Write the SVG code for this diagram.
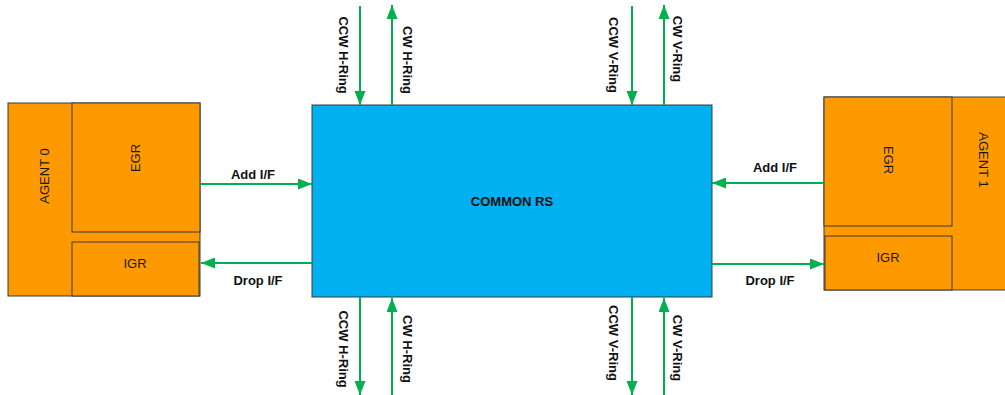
<svg xmlns="http://www.w3.org/2000/svg" width="1005" height="395" viewBox="0 0 1005 395">
  <style>
    .blk { fill: #FF9900; stroke: #3a3a3a; stroke-width: 1; }
    .rs { fill: #00B0F0; stroke: #3a3a3a; stroke-width: 1; }
    .name { font-family: "Liberation Sans", Arial, sans-serif; font-size: 13px; fill: #1a1a1a; text-anchor: middle; dominant-baseline: central; }
    .lbl { font-family: "Liberation Sans", Arial, sans-serif; font-size: 13px; font-weight: bold; fill: #111111; text-anchor: middle; dominant-baseline: central; }
    .wire { stroke: #00B050; stroke-width: 2; fill: none; marker-end: url(#head); }
  </style>
  <defs>
    <marker id="head" viewBox="0 0 14 11" refX="14" refY="5.5" markerWidth="14" markerHeight="11" markerUnits="userSpaceOnUse" orient="auto">
      <path d="M0,0 L14,5.5 L0,11 Z" fill="#00B050"/>
    </marker>
  </defs>

  <rect width="1005" height="395" fill="#ffffff"/>

  <!-- Agent 0 with its egress and ingress blocks -->
  <g id="agent0">
    <rect class="blk" x="8" y="103" width="192" height="193"/>
    <text class="name" transform="translate(44,176) rotate(-90)">AGENT 0</text>
  </g>
  <g id="agent0-egr">
    <rect class="blk" x="72" y="103" width="128" height="129"/>
    <text class="name" transform="translate(135,158) rotate(-90)">EGR</text>
  </g>
  <g id="agent0-igr">
    <rect class="blk" x="72" y="242" width="127" height="54"/>
    <text class="name" x="135" y="263">IGR</text>
  </g>

  <!-- Shared ring stop -->
  <g id="common-rs">
    <rect class="rs" x="312" y="105" width="400" height="192"/>
    <text class="lbl" x="512" y="201">COMMON RS</text>
  </g>

  <!-- Agent 1 with its egress and ingress blocks -->
  <g id="agent1">
    <rect class="blk" x="824" y="97" width="190" height="193"/>
    <text class="name" transform="translate(983,160) rotate(90)">AGENT 1</text>
  </g>
  <g id="agent1-egr">
    <rect class="blk" x="824" y="97" width="128" height="129"/>
    <text class="name" transform="translate(888,160) rotate(90)">EGR</text>
  </g>
  <g id="agent1-igr">
    <rect class="blk" x="825" y="236" width="127" height="54"/>
    <text class="name" x="888" y="257">IGR</text>
  </g>

  <!-- Interfaces and ring connections -->
  <g id="connectors">
    <line class="wire" x1="200" y1="184" x2="312" y2="184"/>
    <text class="lbl" x="253" y="174">Add I/F</text>
    <line class="wire" x1="312" y1="263" x2="201" y2="263"/>
    <text class="lbl" x="258" y="280">Drop I/F</text>

    <line class="wire" x1="824" y1="183" x2="712" y2="183"/>
    <text class="lbl" x="775" y="167">Add I/F</text>
    <line class="wire" x1="712" y1="264" x2="824" y2="264"/>
    <text class="lbl" x="770" y="280">Drop I/F</text>

    <!-- top: horizontal ring -->
    <line class="wire" x1="360" y1="6" x2="360" y2="105"/>
    <text class="lbl" transform="translate(343,55) rotate(90)">CCW H-Ring</text>
    <line class="wire" x1="392" y1="105" x2="392" y2="5"/>
    <text class="lbl" transform="translate(407,60) rotate(90)">CW H-Ring</text>

    <!-- top: vertical ring -->
    <line class="wire" x1="632" y1="6" x2="632" y2="105"/>
    <text class="lbl" transform="translate(613,55) rotate(90)">CCW V-Ring</text>
    <line class="wire" x1="664" y1="105" x2="664" y2="5"/>
    <text class="lbl" transform="translate(677,49) rotate(90)">CW V-Ring</text>

    <!-- bottom: horizontal ring -->
    <line class="wire" x1="360" y1="297" x2="360" y2="395"/>
    <text class="lbl" transform="translate(343,349) rotate(90)">CCW H-Ring</text>
    <line class="wire" x1="392" y1="395" x2="392" y2="298"/>
    <text class="lbl" transform="translate(407,349) rotate(90)">CW H-Ring</text>

    <!-- bottom: vertical ring -->
    <line class="wire" x1="632" y1="297" x2="632" y2="395"/>
    <text class="lbl" transform="translate(613,343) rotate(90)">CCW V-Ring</text>
    <line class="wire" x1="664" y1="395" x2="664" y2="298"/>
    <text class="lbl" transform="translate(677,348) rotate(90)">CW V-Ring</text>
  </g>
</svg>
